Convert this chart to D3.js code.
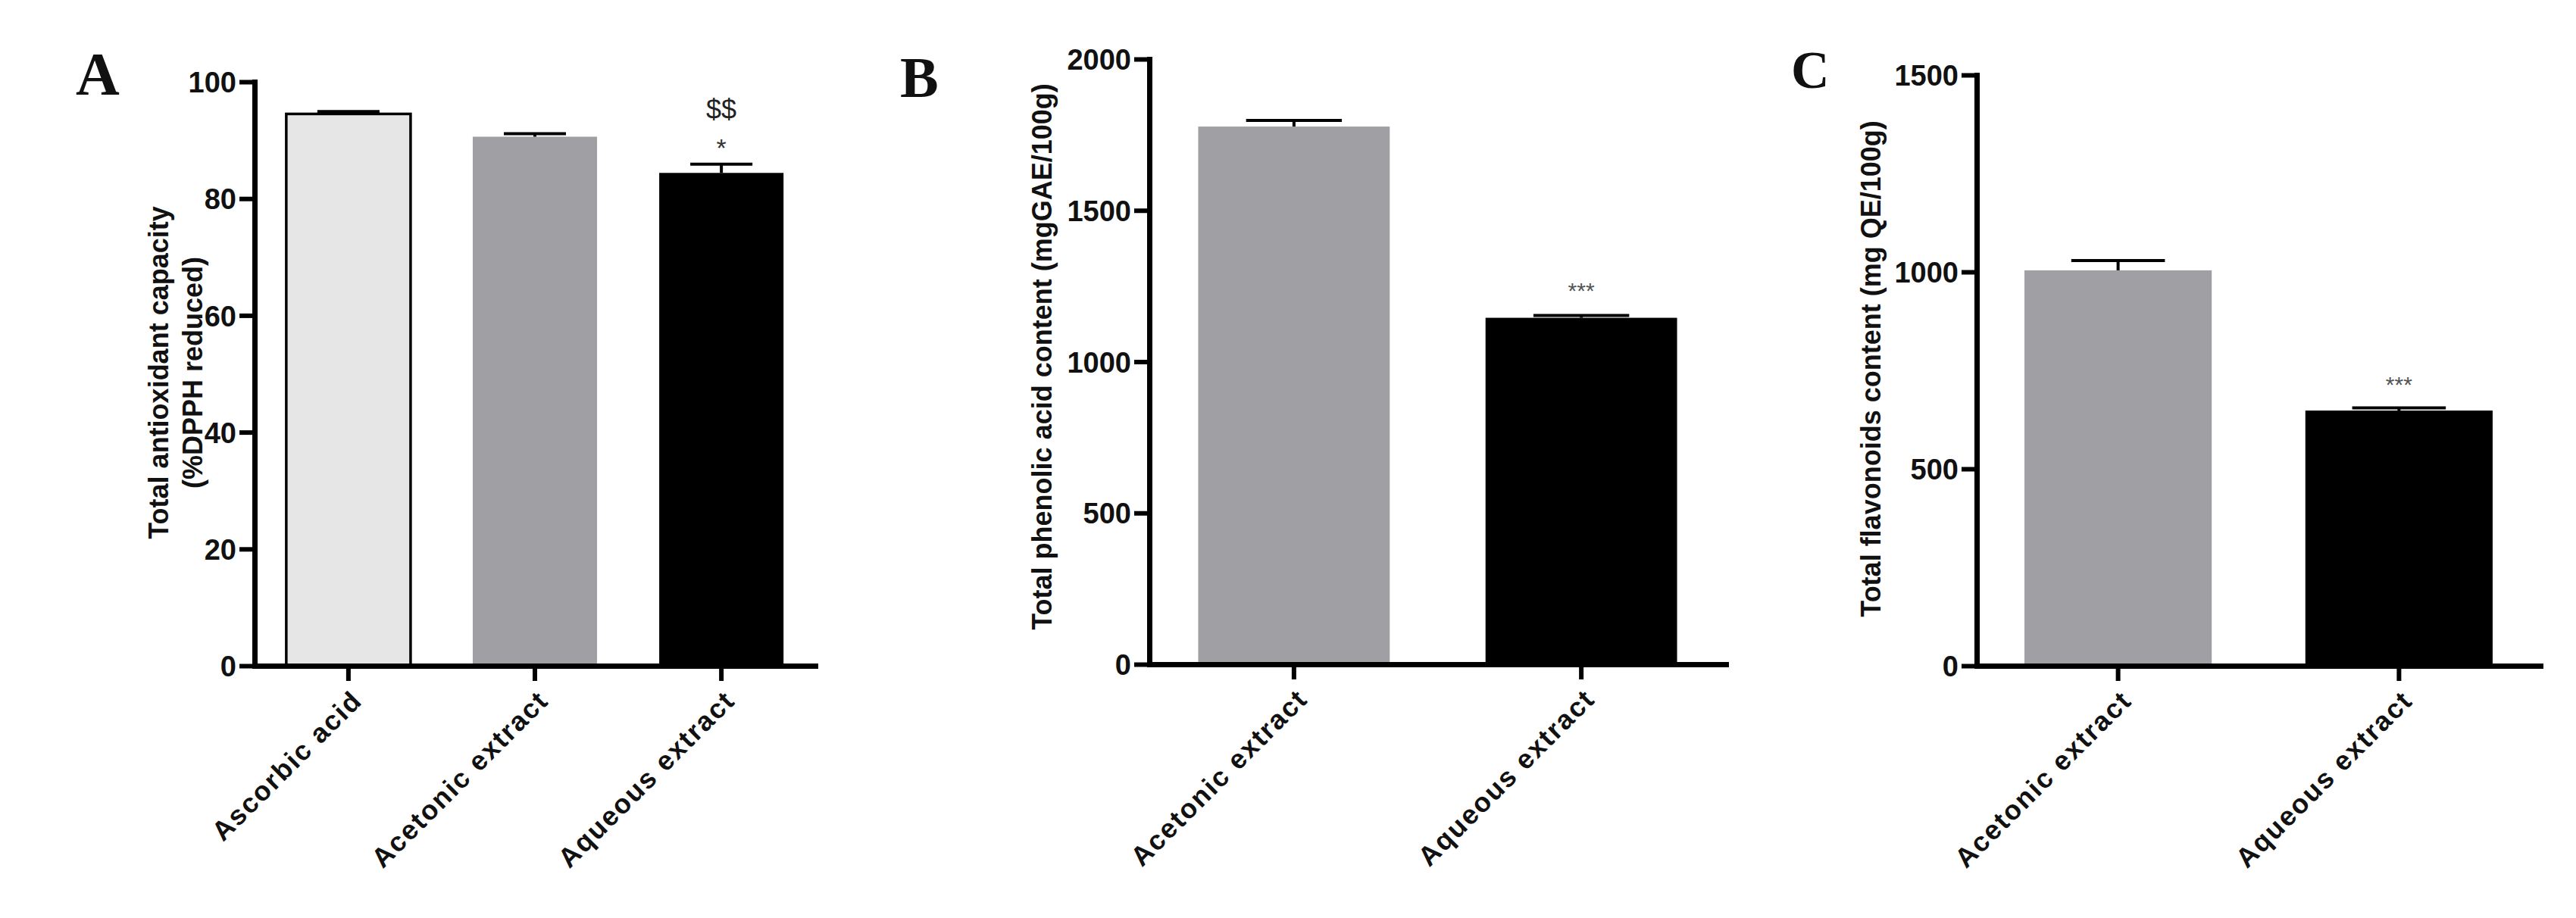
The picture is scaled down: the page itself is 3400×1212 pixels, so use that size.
<!DOCTYPE html>
<html>
<head>
<meta charset="utf-8">
<script src="https://cdn.jsdelivr.net/npm/d3@7"></script>
<style>
  body { margin: 0; background: #fff; }
  svg { display: block; }
  .tick text { font-family: "Liberation Sans", Arial, sans-serif; font-weight: bold; fill: #111; }
</style>
</head>
<body>
<div id="chart"></div>
<script>
// ---- data ----
var catsA = ["Ascorbic acid", "Acetonic extract", "Aqueous extract"];
var valuesA = [94.5, 90.6, 84.4];
var errorsA = [0.4, 0.5, 1.5];
var ticksA = [0, 20, 40, 60, 80, 100];
var markA = ["", "", "*"];
var mark2A = ["", "", "$$"];

var catsB = ["Acetonic extract", "Aqueous extract"];
var valuesB = [1777, 1145];
var errorsB = [20, 8];
var ticksB = [0, 500, 1000, 1500, 2000];
var markB = ["", "***"];

var catsC = ["Acetonic extract", "Aqueous extract"];
var valuesC = [1004, 648];
var errorsC = [25, 7];
var ticksC = [0, 500, 1000, 1500];
var markC = ["", "***"];

var fillsA = ["#e6e6e6", "#a09fa4", "#000000"];
var fillsBC = ["#a09fa4", "#000000"];

var width = 3400,
    height = 1212;

var svg = d3.select("#chart").append("svg")
    .attr("width", width)
    .attr("height", height);

function drawPanel(p) {
  var g = svg.append("g");

  var y = d3.scaleLinear()
      .domain([0, p.ticks[p.ticks.length - 1]])
      .range([p.zeroY, p.topY]);

  var x = d3.scaleBand()
      .domain(p.cats)
      .range([p.axisX, p.endX])
      .paddingInner(1 / 3)
      .paddingOuter(0.17);

  var rows = p.cats.map(function(c, i) {
    return {cat: c, v: p.values[i], e: p.errors[i], fill: p.fills[i],
            m1: p.mark ? p.mark[i] : "", m2: p.mark2 ? p.mark2[i] : ""};
  });

  // bars
  g.selectAll("rect.bar")
      .data(rows)
    .enter().append("rect")
      .attr("class", "bar")
      .attr("x", function(d) { return x(d.cat); })
      .attr("y", function(d) { return y(d.v); })
      .attr("width", x.bandwidth())
      .attr("height", function(d) { return p.zeroY - y(d.v); })
      .style("fill", function(d) { return d.fill; })
      .style("stroke", function(d, i) { return p.outlineFirst && i == 0 ? "#000" : "none"; })
      .style("stroke-width", "3.5px");

  // error bars (upper only)
  var cap = x.bandwidth() / 2;
  var eb = g.selectAll("g.err")
      .data(rows)
    .enter().append("g")
      .attr("class", "err");
  eb.append("line")
      .attr("x1", function(d) { return x(d.cat) + x.bandwidth() / 2; })
      .attr("x2", function(d) { return x(d.cat) + x.bandwidth() / 2; })
      .attr("y1", function(d) { return y(d.v); })
      .attr("y2", function(d) { return y(d.v + d.e); })
      .style("stroke", "#000").style("stroke-width", "4px");
  eb.append("line")
      .attr("x1", function(d) { return x(d.cat) + x.bandwidth() / 2 - cap / 2; })
      .attr("x2", function(d) { return x(d.cat) + x.bandwidth() / 2 + cap / 2; })
      .attr("y1", function(d) { return y(d.v + d.e); })
      .attr("y2", function(d) { return y(d.v + d.e); })
      .style("stroke", "#000").style("stroke-width", "4px");

  // significance marks
  g.selectAll("text.m1")
      .data(rows.filter(function(d) { return d.m1; }))
    .enter().append("text")
      .attr("class", "m1")
      .attr("x", function(d) { return x(d.cat) + x.bandwidth() / 2; })
      .attr("y", function(d) { return y(d.v + d.e) - p.markGap; })
      .attr("text-anchor", "middle")
      .style("font-family", "'Liberation Sans', Arial, sans-serif")
      .style("font-size", p.markSize + "px")
      .style("fill", p.markColor)
      .text(function(d) { return d.m1; });

  g.selectAll("text.m2")
      .data(rows.filter(function(d) { return d.m2; }))
    .enter().append("text")
      .attr("class", "m2")
      .attr("x", function(d) { return x(d.cat) + x.bandwidth() / 2; })
      .attr("y", function(d) { return y(d.v + d.e) - 60; })
      .attr("text-anchor", "middle")
      .style("font-family", "'Liberation Sans', Arial, sans-serif")
      .style("font-size", "36px")
      .style("fill", "#222")
      .text(function(d) { return d.m2; });

  // y axis
  var yAxis = d3.axisLeft(y)
      .tickValues(p.ticks)
      .tickFormat(d3.format("d"))
      .tickSize(20)
      .tickSizeOuter(0)
      .tickPadding(4);
  var ya = g.append("g")
      .attr("transform", "translate(" + p.axisX + ",0)")
      .call(yAxis);
  ya.select(".domain").style("stroke-width", "7px").attr("stroke-linecap", "square");
  ya.selectAll(".tick line").style("stroke-width", "6px");
  ya.selectAll(".tick text").style("font-size", "38px").attr("dy", "0.36em");

  // x axis
  var xAxis = d3.axisBottom(x)
      .tickSize(20)
      .tickSizeOuter(0);
  var xa = g.append("g")
      .attr("transform", "translate(0," + p.zeroY + ")")
      .call(xAxis);
  xa.select(".domain").style("stroke-width", "7px").attr("stroke-linecap", "square");
  xa.selectAll(".tick line").style("stroke-width", "6px");
  xa.selectAll(".tick text")
      .style("font-size", "36px")
      .style("letter-spacing", "2px")
      .attr("text-anchor", "end")
      .attr("dy", null)
      .attr("y", null)
      .attr("transform", "translate(20,48) rotate(-45)");

  // y title
  var yt = g.append("text")
      .attr("transform", "translate(" + p.titleX + "," + p.titleY + ") rotate(-90)")
      .attr("text-anchor", "middle")
      .style("font-family", "'Liberation Sans', Arial, sans-serif")
      .style("font-weight", "bold")
      .style("font-size", "36px")
      .style("fill", "#111");
  p.title.forEach(function(t, i) {
    yt.append("tspan")
        .attr("x", 0)
        .attr("dy", i == 0 ? 0 : "1.25em")
        .text(t);
  });

  // panel letter
  g.append("text")
      .attr("x", p.letterX)
      .attr("y", p.letterY)
      .style("font-family", "'Liberation Serif', 'Times New Roman', serif")
      .style("font-weight", "bold")
      .style("font-size", p.letterSize + "px")
      .style("fill", "#111")
      .text(p.letter);
}

drawPanel({
  cats: catsA, values: valuesA, errors: errorsA, ticks: ticksA, fills: fillsA,
  mark: markA, mark2: mark2A, markGap: 10, markSize: 34, markColor: "#333",
  outlineFirst: true,
  axisX: 336, endX: 1076, zeroY: 879, topY: 108,
  title: ["Total antioxidant capacity", "(%DPPH reduced)"], titleX: 222, titleY: 492,
  letter: "A", letterX: 100, letterY: 125, letterSize: 80
});

drawPanel({
  cats: catsB, values: valuesB, errors: errorsB, ticks: ticksB, fills: fillsBC,
  mark: markB, markGap: 22, markSize: 30, markColor: "#555",
  axisX: 1517, endX: 2278, zeroY: 877, topY: 78,
  title: ["Total phenolic acid content (mgGAE/100g)"], titleX: 1388, titleY: 471,
  letter: "B", letterX: 1188, letterY: 128, letterSize: 76
});

drawPanel({
  cats: catsC, values: valuesC, errors: errorsC, ticks: ticksC, fills: fillsBC,
  mark: markC, markGap: 20, markSize: 30, markColor: "#555",
  axisX: 2609, endX: 3353, zeroY: 879, topY: 99,
  title: ["Total flavonoids content (mg QE/100g)"], titleX: 2482, titleY: 487,
  letter: "C", letterX: 2364, letterY: 116, letterSize: 70
});
</script>
</body>
</html>
